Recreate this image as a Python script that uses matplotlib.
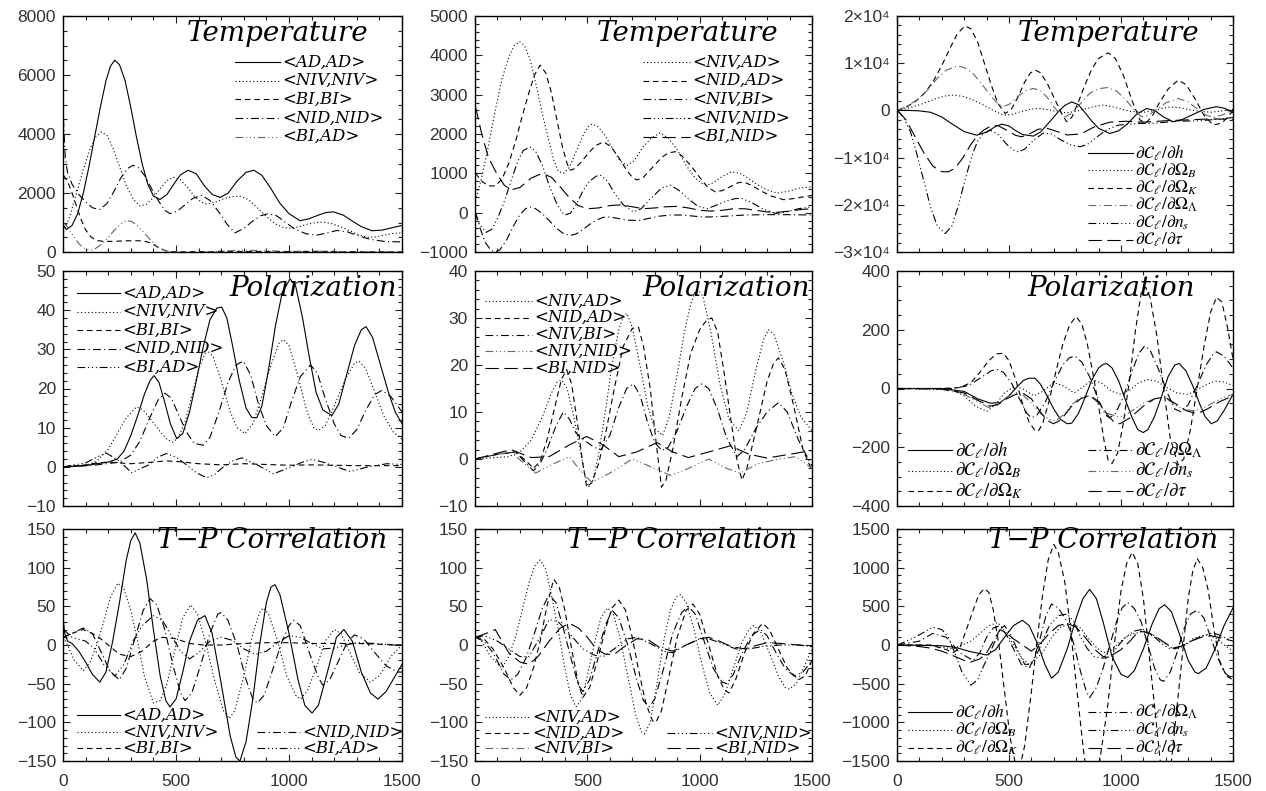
import matplotlib
matplotlib.use('Agg')
import matplotlib.pyplot as plt
from matplotlib.lines import Line2D
from matplotlib.ticker import MultipleLocator, FixedLocator, FixedFormatter

# ---------------- DATA ----------------
# Panel 1: Temperature, auto spectra
t_adad_l = [2, 15, 40, 65, 90, 115, 140, 165, 190, 210, 229, 250, 275, 300, 325, 350, 375, 400, 429, 460, 490, 520, 554, 590, 625, 660, 695, 730, 770, 810, 845, 880, 920, 960, 1000, 1049, 1090, 1130, 1165, 1197, 1240, 1280, 1320, 1367, 1410, 1455, 1500]
t_adad_v = [900, 760, 900, 1300, 2000, 2900, 3900, 4900, 5800, 6300, 6500, 6350, 5800, 4900, 3900, 3000, 2300, 1900, 1780, 1950, 2300, 2620, 2770, 2650, 2250, 1950, 1850, 1990, 2400, 2700, 2770, 2600, 2150, 1650, 1300, 1060, 1130, 1250, 1340, 1360, 1250, 1050, 860, 720, 740, 820, 900]
t_nivniv_l = [2, 30, 60, 90, 120, 145, 170, 195, 220, 250, 280, 310, 340, 370, 400, 430, 460, 488, 520, 550, 580, 610, 636, 670, 710, 750, 783, 820, 860, 900, 940, 975, 1005, 1040, 1080, 1120, 1153, 1190, 1230, 1270, 1310, 1345, 1380, 1420, 1460, 1500]
t_nivniv_v = [700, 1200, 2000, 2800, 3500, 3900, 4070, 3950, 3550, 2900, 2250, 1800, 1560, 1620, 1850, 2150, 2420, 2540, 2450, 2200, 1900, 1700, 1620, 1680, 1800, 1880, 1890, 1780, 1500, 1200, 950, 830, 800, 850, 940, 1000, 1010, 960, 850, 720, 580, 500, 510, 570, 630, 650]
t_bibi_l = [2, 20, 40, 60, 80, 100, 125, 150, 180, 220, 280, 340, 370, 395, 420, 445, 470, 500, 700, 900, 1100, 1300, 1500]
t_bibi_v = [2600, 2400, 2000, 1550, 1100, 750, 500, 390, 360, 360, 380, 380, 350, 280, 160, 70, 15, 0, 20, 10, 20, 10, 0]
t_nidnid_l = [2, 10, 20, 40, 70, 100, 130, 163, 195, 225, 255, 285, 310, 335, 365, 395, 425, 450, 473, 505, 540, 575, 614, 650, 690, 725, 761, 800, 840, 875, 909, 945, 985, 1025, 1075, 1123, 1170, 1212, 1260, 1310, 1360, 1420, 1500]
t_nidnid_v = [4500, 3200, 2700, 2300, 1950, 1700, 1500, 1440, 1650, 2050, 2500, 2830, 2940, 2850, 2550, 2100, 1700, 1420, 1300, 1380, 1600, 1820, 1920, 1750, 1350, 950, 650, 800, 1050, 1230, 1300, 1230, 1000, 780, 620, 570, 650, 730, 680, 540, 430, 360, 340]
t_biad_l = [2, 20, 45, 70, 95, 118, 140, 165, 195, 225, 255, 280, 305, 330, 360, 390, 420, 450, 480, 540, 600, 700, 800, 900, 1000, 1100, 1200, 1300, 1400, 1500]
t_biad_v = [1000, 850, 550, 280, 120, 60, 100, 230, 450, 720, 950, 1070, 1030, 880, 640, 380, 170, 50, 0, -20, -20, 30, 60, 40, 20, 30, 20, 10, 5, 0]

# Panel 2: Temperature, cross spectra
t_nivad_l = [2, 30, 60, 90, 120, 150, 175, 198, 220, 245, 270, 300, 330, 350, 371, 395, 420, 450, 480, 505, 520, 545, 575, 610, 645, 676, 710, 745, 785, 824, 860, 900, 940, 980, 1010, 1032, 1060, 1100, 1143, 1180, 1220, 1260, 1300, 1344, 1390, 1440, 1500]
t_nivad_v = [300, 900, 1700, 2600, 3400, 3950, 4250, 4350, 4250, 3900, 3300, 2500, 1800, 1350, 1050, 1000, 1150, 1550, 1950, 2200, 2250, 2200, 2000, 1650, 1320, 1200, 1330, 1650, 1900, 2030, 1900, 1600, 1200, 880, 740, 700, 760, 920, 1040, 1000, 860, 700, 580, 500, 540, 620, 660]
t_nidad_l = [2, 30, 60, 90, 120, 150, 180, 210, 240, 265, 290, 315, 340, 365, 390, 410, 423, 445, 470, 500, 535, 572, 605, 640, 675, 700, 720, 750, 790, 830, 860, 891, 920, 960, 1000, 1035, 1069, 1100, 1140, 1170, 1195, 1230, 1270, 1320, 1374, 1420, 1460, 1500]
t_nidad_v = [1000, 800, 680, 680, 850, 1250, 1800, 2450, 3050, 3500, 3750, 3550, 3050, 2350, 1650, 1250, 1080, 1120, 1270, 1480, 1700, 1800, 1680, 1400, 1080, 900, 830, 900, 1150, 1400, 1520, 1550, 1450, 1200, 900, 650, 530, 560, 670, 760, 780, 700, 560, 420, 330, 360, 400, 440]
t_nivbi_l = [2, 20, 45, 70, 89, 110, 140, 170, 200, 225, 245, 270, 300, 330, 360, 390, 423, 450, 480, 510, 540, 570, 601, 640, 680, 728, 770, 820, 870, 920, 960, 1000, 1040, 1100, 1200, 1300, 1400, 1500]
t_nivbi_v = [0, -350, -750, -950, -1000, -950, -700, -350, -50, 100, 150, 100, -30, -200, -380, -520, -580, -540, -430, -300, -190, -120, -110, -150, -190, -200, -150, -90, -60, -60, -80, -105, -110, -95, -60, -50, -50, -60]
t_nivnid_l = [2, 20, 50, 75, 100, 130, 160, 190, 215, 245, 270, 300, 330, 360, 385, 401, 425, 450, 480, 510, 540, 560, 590, 620, 660, 705, 740, 780, 830, 869, 910, 950, 990, 1032, 1070, 1120, 1160, 1188, 1230, 1280, 1337, 1380, 1440, 1500]
t_nivnid_v = [0, -300, -500, -420, -150, 280, 800, 1300, 1580, 1670, 1560, 1200, 700, 280, 20, -60, -10, 200, 550, 800, 930, 950, 800, 500, 200, 20, 100, 350, 620, 700, 560, 350, 170, 100, 180, 300, 360, 360, 260, 100, -20, 10, 100, 150]
t_binid_l = [2, 30, 60, 96, 130, 160, 200, 250, 300, 340, 380, 420, 460, 500, 550, 600, 650, 700, 750, 800, 850, 900, 950, 1000, 1050, 1100, 1150, 1200, 1250, 1300, 1350, 1400, 1450, 1500]
t_binid_v = [2700, 2000, 1400, 1000, 700, 580, 640, 880, 1000, 900, 650, 380, 180, 100, 120, 180, 200, 150, 100, 120, 150, 160, 120, 60, 40, 60, 100, 100, 60, 20, 10, 40, 80, 100]

# Panel 3: Temperature, derivatives
t_dh_l = [2, 50, 100, 150, 200, 250, 300, 356, 400, 440, 468, 500, 530, 560, 609, 640, 680, 720, 750, 780, 810, 840, 870, 900, 950, 990, 1030, 1070, 1114, 1150, 1190, 1233, 1270, 1320, 1370, 1426, 1465, 1500]
t_dh_v = [0, 0, -100, -400, -1400, -3000, -4500, -5250, -4600, -3400, -2900, -3300, -4300, -5100, -5450, -4600, -2500, -300, 1100, 1800, 1200, -500, -2300, -3800, -4900, -4300, -2800, -800, 400, 0, -1400, -2400, -2000, -900, 200, 800, 400, -500]
t_dob_l = [2, 60, 120, 180, 220, 252, 290, 330, 380, 430, 475, 510, 550, 600, 640, 680, 720, 760, 800, 840, 880, 921, 960, 1000, 1040, 1100, 1140, 1180, 1220, 1260, 1300, 1340, 1400, 1450, 1500]
t_dob_v = [0, 600, 1500, 2600, 3100, 3240, 3000, 2400, 1300, 0, -1000, -900, -300, 300, 400, 100, -350, -500, -200, 300, 800, 1130, 800, 300, -200, -400, -100, 400, 700, 600, 200, -100, -400, -100, 200]
t_dok_l = [2, 40, 80, 120, 160, 200, 240, 270, 304, 330, 360, 390, 420, 450, 483, 510, 540, 570, 595, 616, 640, 670, 700, 730, 757, 780, 810, 840, 870, 900, 943, 975, 1010, 1050, 1084, 1110, 1140, 1170, 1210, 1255, 1290, 1330, 1370, 1411, 1450, 1480, 1500]
t_dok_v = [0, 700, 1800, 3500, 6000, 9500, 13500, 16300, 17900, 17300, 14500, 10000, 5500, 1500, -650, 200, 2800, 6000, 7900, 8550, 8000, 5800, 2800, -200, -2400, -1500, 1800, 5500, 8800, 11000, 12200, 11000, 7500, 2000, -2000, -2700, -1200, 1500, 4500, 6400, 5500, 2500, -1000, -3100, -2700, -1200, 0]
t_dol_l = [2, 50, 100, 140, 180, 220, 267, 300, 340, 380, 420, 450, 475, 505, 540, 575, 609, 640, 670, 700, 725, 750, 780, 820, 860, 900, 943, 980, 1020, 1060, 1090, 1120, 1160, 1200, 1255, 1300, 1340, 1380, 1411, 1450, 1500]
t_dol_v = [0, 1000, 2600, 4500, 6800, 8500, 9400, 9100, 7800, 5500, 3000, 1400, 800, 1400, 3000, 4200, 4650, 4200, 2800, 800, -600, -1360, -600, 1500, 3600, 4600, 4860, 4100, 2300, 100, -1300, -1100, 200, 1600, 2530, 1800, 300, -1000, -1500, -1000, 0]
t_dns_l = [2, 30, 60, 90, 120, 150, 180, 215, 245, 275, 305, 335, 360, 386, 416, 450, 490, 520, 542, 570, 610, 653, 690, 730, 775, 817, 850, 890, 940, 990, 1069, 1150, 1250, 1350, 1450, 1500]
t_dns_v = [0, -1500, -4500, -9500, -15000, -20500, -24500, -26100, -24500, -20000, -14500, -9500, -6500, -4900, -4200, -5000, -7200, -8400, -8800, -8200, -6300, -4800, -5000, -6200, -7300, -7700, -7200, -5700, -4000, -3100, -2800, -2700, -2300, -2200, -1800, -1500]
t_dtau_l = [2, 40, 80, 120, 160, 200, 230, 260, 295, 330, 360, 386, 420, 450, 490, 530, 557, 590, 630, 670, 710, 760, 820, 880, 950, 1020, 1100, 1200, 1300, 1400, 1500]
t_dtau_v = [0, -2000, -5500, -9000, -11800, -13000, -13000, -12200, -10000, -7200, -5300, -4200, -3300, -3200, -4200, -5300, -5600, -5000, -4000, -3800, -4400, -5200, -5000, -3500, -2500, -2300, -2500, -2200, -2000, -1800, -1900]

# Panel 4: Polarization, auto spectra
p_adad_l = [2, 100, 150, 200, 240, 270, 300, 330, 360, 385, 403, 425, 450, 475, 503, 530, 560, 590, 620, 650, 680, 702, 725, 750, 780, 810, 835, 857, 880, 910, 940, 970, 1005, 1030, 1060, 1090, 1120, 1150, 1190, 1220, 1255, 1290, 1320, 1341, 1370, 1400, 1440, 1470, 1500]
p_adad_v = [0, 0.3, 0.8, 1.2, 2, 4, 8, 13, 18.5, 22, 23.3, 21.5, 16.5, 11, 7.2, 8.5, 14, 22, 30.5, 37.5, 40.5, 40.8, 38, 31, 22, 15, 12.6, 12.5, 15.5, 25, 36, 44.5, 48, 46, 38, 28, 19, 14.5, 13.1, 16, 23.5, 31, 35, 35.8, 33, 27, 19, 14, 11]
p_nivniv_l = [2, 100, 150, 200, 240, 280, 325, 355, 390, 430, 460, 488, 510, 540, 570, 600, 636, 665, 700, 740, 770, 805, 840, 880, 920, 955, 975, 1000, 1040, 1080, 1110, 1131, 1160, 1200, 1250, 1290, 1310, 1340, 1380, 1420, 1460, 1500]
p_nivniv_v = [0, 0.3, 1.5, 4.5, 8.5, 12.5, 15.3, 14.5, 12, 9, 7, 6.3, 7.5, 11.5, 18, 25, 29.9, 28, 22, 14, 10, 8.5, 11, 18, 26, 31.5, 32.5, 31, 23, 14, 10, 9.3, 10.5, 15.5, 22.5, 26.5, 27, 25, 19, 13, 9, 7]
p_bibi_l = [2, 100, 150, 200, 300, 400, 450, 500, 600, 700, 800, 900, 1000, 1100, 1200, 1300, 1400, 1500]
p_bibi_v = [0, 0.5, 1, 1.2, 0.8, 1.2, 1.5, 1.4, 0.8, 0.5, 0.8, 0.6, 0.4, 0.5, 0.4, 0.3, 0.3, 0.3]
p_nidnid_l = [2, 150, 250, 300, 340, 380, 420, 451, 480, 510, 545, 580, 621, 650, 690, 730, 765, 798, 830, 865, 900, 939, 975, 1010, 1050, 1095, 1125, 1160, 1200, 1230, 1264, 1300, 1340, 1380, 1411, 1450, 1500]
p_nidnid_v = [0, 0.5, 1.2, 3, 6.5, 12, 17, 18.8, 17.5, 13.5, 9, 6, 5.5, 7.5, 14, 21.5, 26, 27, 23.5, 16, 10.5, 7.7, 10, 16.5, 23, 26, 24, 17.5, 11, 8, 7.3, 9.5, 14.5, 18.5, 19.5, 18, 14]
p_biad_l = [2, 100, 150, 192, 250, 303, 380, 420, 458, 500, 540, 590, 636, 670, 710, 750, 791, 860, 931, 1010, 1060, 1101, 1150, 1190, 1271, 1350, 1434, 1500]
p_biad_v = [0, 1, 2.5, 3.5, 1.5, -1.5, 0.5, 2.5, 3.4, 2.5, 0.8, -1.5, -2.8, -2, 0, 1.5, 2.3, 0.5, -1.8, 0, 1.2, 1.9, 1.2, 0.4, -1.2, 0, 0.8, 0.6]

# Panel 5: Polarization, cross spectra
p_nivad_l = [2, 150, 200, 250, 300, 340, 365, 386, 410, 440, 470, 490, 505, 525, 550, 580, 610, 640, 660, 676, 700, 730, 770, 800, 835, 865, 900, 930, 960, 980, 995, 1015, 1050, 1090, 1130, 1175, 1210, 1250, 1285, 1307, 1330, 1370, 1410, 1450, 1500]
p_nivad_v = [0, 0.5, 1.5, 4, 9, 14, 16.3, 16.8, 15, 9, 1.5, -3.5, -6, -4.5, 1, 10, 20, 27.5, 30.3, 31, 28, 21, 11, 6.5, 5, 9, 18, 26.5, 33, 35.5, 36, 34.5, 27, 16, 8.5, 6, 10, 19, 25.5, 27.5, 26.5, 21, 14, 9, 6]
p_nidad_l = [2, 100, 180, 230, 260, 290, 320, 360, 385, 408, 430, 455, 480, 497, 520, 550, 580, 620, 660, 700, 728, 750, 780, 805, 830, 850, 880, 920, 960, 1000, 1030, 1054, 1080, 1110, 1140, 1165, 1188, 1210, 1250, 1300, 1330, 1351, 1380, 1420, 1460, 1500]
p_nidad_v = [0, 1, 1.5, -0.5, -2, -0.5, 4, 12, 17, 19, 16, 8, -1, -6, -5, -1, 5, 15, 24, 27.8, 28, 24, 15, 4, -6, -4.5, 2, 13, 22.5, 27.5, 29.5, 30, 27, 18, 8, 0, -4.5, -2, 6, 16.5, 20.5, 21.5, 19, 11, 2, -2.5]
p_nivbi_l = [2, 100, 180, 220, 260, 290, 320, 360, 393, 420, 450, 497, 530, 560, 600, 640, 675, 705, 735, 770, 800, 832, 860, 900, 940, 980, 1010, 1040, 1080, 1120, 1166, 1200, 1250, 1300, 1351, 1390, 1440, 1500]
p_nivbi_v = [0, 1, 1.5, -0.5, -2.5, -1, 2, 7, 10, 8.5, 5.5, 3.6, 2.5, 2, 5, 11, 15, 16, 13.5, 7.5, 3.5, 1.8, 2.5, 6, 11, 15, 16, 15, 10.5, 4.5, 0.5, 2, 6.5, 10, 12, 10, 4, -1.5]
p_nivnid_l = [2, 100, 160, 220, 270, 350, 420, 470, 520, 600, 700, 800, 870, 950, 1040, 1120, 1180, 1260, 1350, 1430, 1500]
p_nivnid_v = [0, 1, 1.5, -1, -3, -1, 0.5, -2.5, -5, -3, 0, -2, -3.5, -2, 0, -2, -3, -1, 0, 0.5, -2]
p_binid_l = [2, 80, 160, 250, 330, 420, 497, 570, 640, 720, 810, 880, 950, 1040, 1136, 1220, 1300, 1400, 1500]
p_binid_v = [0, 1, 2, 0.3, 0.5, 3, 4.8, 3, 0.5, 1.5, 3.5, 1.5, 0.3, 1.5, 2.8, 1, 0.2, 1, 1.8]

# Panel 6: Polarization, derivatives
p_dh_l = [2, 200, 300, 360, 416, 460, 500, 535, 565, 590, 616, 640, 670, 700, 730, 760, 780, 810, 840, 870, 900, 920, 936, 960, 990, 1020, 1050, 1075, 1099, 1120, 1150, 1180, 1210, 1240, 1260, 1290, 1320, 1350, 1375, 1403, 1430, 1460, 1500]
p_dh_v = [0, 0, -10, -35, -50, -48, -25, 5, 28, 35, 35, 15, -25, -70, -105, -120, -118, -85, -30, 30, 70, 82, 85, 70, 25, -40, -100, -140, -150, -140, -95, -30, 40, 80, 85, 60, 10, -50, -95, -120, -110, -75, -20]
p_dob_l = [2, 250, 300, 350, 401, 440, 480, 520, 560, 610, 650, 700, 740, 790, 830, 870, 910, 960, 1000, 1040, 1080, 1120, 1160, 1200, 1250, 1300, 1350, 1400, 1426, 1460, 1500]
p_dob_v = [0, -5, -25, -60, -78, -55, -15, 5, 0, -25, -10, 20, 10, -15, 5, 30, 20, -10, -20, -5, 20, 30, 25, 5, -15, -20, 0, 20, 25, 22, 10]
p_dok_l = [2, 200, 280, 330, 370, 410, 445, 475, 500, 530, 560, 590, 615, 631, 650, 680, 710, 740, 770, 799, 825, 850, 875, 900, 925, 943, 960, 985, 1010, 1040, 1065, 1091, 1110, 1130, 1160, 1190, 1220, 1255, 1280, 1310, 1340, 1370, 1400, 1426, 1450, 1475, 1500]
p_dok_v = [0, 0, 3, 20, 55, 95, 118, 120, 95, 30, -50, -115, -142, -145, -120, -40, 60, 150, 215, 245, 220, 150, 50, -60, -180, -245, -255, -220, -120, 40, 200, 330, 345, 310, 180, 0, -170, -260, -240, -140, 0, 140, 260, 310, 295, 210, 100]
p_dol_l = [2, 250, 320, 380, 420, 446, 475, 510, 550, 580, 601, 625, 660, 700, 740, 770, 794, 825, 860, 900, 930, 950, 975, 1010, 1050, 1080, 1106, 1130, 1165, 1210, 1240, 1270, 1300, 1340, 1380, 1410, 1426, 1460, 1500]
p_dol_v = [0, 0, 10, 40, 60, 65, 55, 20, -40, -85, -100, -90, -50, 20, 80, 105, 110, 90, 40, -40, -90, -100, -85, -30, 60, 120, 145, 130, 70, -20, -70, -80, -55, 10, 80, 115, 125, 110, 70]
p_dns_l = [2, 200, 300, 360, 410, 450, 490, 520, 560, 600, 640, 680, 710, 750, 780, 820, 861, 900, 940, 980, 1010, 1060, 1100, 1150, 1195, 1240, 1280, 1330, 1370, 1420, 1460, 1500]
p_dns_v = [0, -2, -20, -45, -65, -55, -30, -20, -20, -50, -85, -105, -110, -85, -55, -30, -25, -50, -85, -95, -95, -70, -50, -35, -30, -55, -72, -76, -65, -45, -30, -20]
p_dtau_l = [2, 200, 300, 360, 416, 450, 490, 530, 564, 600, 640, 670, 698, 730, 780, 820, 861, 900, 940, 970, 995, 1040, 1100, 1150, 1195, 1240, 1290, 1337, 1380, 1440, 1500]
p_dtau_v = [0, -2, -15, -40, -60, -55, -35, -20, -17, -35, -80, -108, -120, -108, -60, -35, -23, -45, -90, -115, -120, -100, -60, -35, -29, -50, -75, -86, -72, -45, -25]

# Panel 7: T-P correlation, auto spectra
c_adad_l = [2, 8, 20, 40, 70, 100, 130, 163, 190, 220, 250, 280, 300, 319, 340, 370, 400, 430, 455, 473, 500, 530, 560, 595, 628, 660, 700, 740, 765, 783, 810, 840, 870, 900, 920, 938, 960, 1000, 1040, 1070, 1102, 1130, 1170, 1210, 1243, 1280, 1320, 1360, 1394, 1430, 1470, 1500]
c_adad_v = [30, 15, 5, 2, -8, -22, -38, -48, -35, 5, 55, 110, 135, 145, 132, 85, 20, -40, -72, -80, -70, -35, 5, 32, 38, 15, -50, -118, -145, -150, -125, -70, 0, 55, 75, 78, 65, 15, -45, -78, -88, -78, -35, 10, 20, 5, -35, -62, -70, -60, -40, -25]
c_nivniv_l = [2, 20, 50, 90, 120, 150, 180, 210, 243, 270, 300, 330, 360, 400, 430, 460, 500, 530, 565, 595, 630, 670, 710, 735, 760, 800, 840, 870, 885, 910, 950, 990, 1030, 1050, 1080, 1120, 1160, 1200, 1230, 1270, 1310, 1360, 1400, 1450, 1500]
c_nivniv_v = [10, 0, -20, -33, -22, 0, 30, 62, 80, 72, 45, 5, -40, -75, -72, -50, 0, 35, 52, 40, 5, -45, -85, -95, -85, -40, 15, 42, 48, 40, 5, -40, -65, -70, -60, -30, 5, 20, 15, -10, -35, -48, -40, -15, 0]
c_bibi_l = [2, 40, 90, 150, 200, 250, 300, 350, 400, 440, 500, 560, 620, 700, 800, 900, 1000, 1100, 1200, 1300, 1400, 1500]
c_bibi_v = [10, 15, 20, 12, 0, -12, -15, -8, 5, 10, 8, 2, 0, 0, 2, 3, 3, 2, 2, 2, 1, 0]
c_nidnid_l = [2, 40, 90, 130, 170, 210, 250, 280, 320, 355, 385, 415, 450, 490, 520, 540, 570, 610, 650, 685, 700, 730, 770, 810, 840, 860, 890, 930, 970, 1000, 1020, 1050, 1090, 1130, 1150, 1180, 1220, 1260, 1290, 1330, 1380, 1430, 1480, 1500]
c_nidnid_v = [10, 15, 22, 15, -10, -35, -45, -30, 10, 45, 60, 52, 20, -30, -62, -72, -62, -25, 15, 40, 42, 32, 0, -45, -70, -75, -65, -30, 5, 25, 32, 25, -10, -42, -52, -45, -20, 5, 13, 8, -10, -27, -35, -35]
c_biad_l = [2, 40, 100, 140, 180, 230, 270, 310, 350, 400, 440, 480, 520, 560, 600, 650, 700, 750, 800, 850, 900, 950, 1000, 1050, 1100, 1150, 1200, 1250, 1300, 1380, 1450, 1500]
c_biad_v = [20, 10, 5, -5, -25, -40, -25, 5, 25, 38, 32, 12, -8, -18, -10, 5, 10, 6, -5, -12, -8, 3, 12, 10, 2, -5, -4, 0, 3, 2, 0, 0]

# Panel 8: T-P correlation, cross spectra
c_nivad_l = [2, 30, 70, 120, 150, 180, 210, 240, 265, 290, 315, 340, 370, 400, 425, 450, 475, 500, 530, 560, 590, 615, 645, 680, 715, 740, 755, 780, 810, 840, 870, 895, 915, 940, 975, 1010, 1045, 1080, 1110, 1150, 1190, 1220, 1240, 1270, 1310, 1350, 1380, 1400, 1430, 1470, 1500]
c_nivad_v = [10, 5, -15, -30, -15, 10, 45, 80, 102, 110, 98, 65, 20, -30, -65, -80, -70, -40, 0, 35, 48, 40, 10, -40, -90, -112, -115, -100, -50, 5, 45, 62, 65, 55, 20, -25, -62, -78, -65, -30, 5, 20, 25, 18, -10, -40, -55, -57, -50, -25, -5]
c_nidad_l = [2, 40, 80, 130, 170, 200, 230, 260, 290, 320, 350, 375, 400, 430, 460, 480, 510, 545, 580, 610, 640, 670, 700, 730, 760, 790, 805, 830, 860, 900, 940, 970, 1000, 1040, 1080, 1110, 1130, 1160, 1200, 1240, 1280, 1310, 1350, 1390, 1440, 1470, 1500]
c_nidad_v = [10, 8, -5, -30, -55, -65, -55, -30, 5, 50, 85, 75, 45, -5, -50, -68, -55, -20, 20, 48, 58, 45, 10, -35, -75, -98, -100, -85, -45, 10, 45, 53, 40, 0, -40, -58, -62, -45, -10, 15, 28, 20, -5, -30, -45, -40, -20]
c_nivbi_l = [2, 40, 80, 130, 160, 190, 230, 270, 300, 330, 360, 390, 430, 460, 480, 510, 550, 580, 610, 640, 680, 720, 750, 775, 800, 840, 880, 920, 950, 980, 1020, 1060, 1100, 1120, 1150, 1190, 1230, 1270, 1300, 1340, 1380, 1420, 1460, 1500]
c_nivbi_v = [10, 5, -10, -38, -45, -38, -15, 20, 48, 65, 55, 25, -20, -52, -60, -45, -5, 25, 45, 35, 0, -45, -72, -80, -70, -30, 15, 42, 50, 40, 5, -30, -48, -50, -38, -10, 12, 20, 12, -10, -30, -40, -35, -20]
c_nivnid_l = [2, 40, 100, 150, 200, 240, 290, 330, 370, 420, 480, 530, 570, 620, 680, 720, 780, 840, 880, 940, 1000, 1040, 1100, 1160, 1220, 1280, 1360, 1440, 1500]
c_nivnid_v = [10, 12, 5, -5, -15, -15, 10, 33, 30, 15, -5, -13, -15, -5, 8, 10, 2, -8, -10, 0, 8, 8, 2, -5, -5, -2, 0, 0, -2]
c_binid_l = [2, 50, 90, 120, 150, 200, 240, 280, 330, 380, 420, 460, 500, 540, 580, 620, 660, 720, 770, 820, 880, 940, 1000, 1040, 1080, 1140, 1200, 1260, 1300, 1360, 1440, 1500]
c_binid_v = [10, 15, 20, 5, -10, -22, -25, -15, 5, 22, 28, 22, 10, -5, -12, -12, -3, 8, 7, -3, -8, 0, 8, 10, 6, -2, -5, 0, 3, 2, 0, -2]

# Panel 9: T-P correlation, derivatives
c_dh_l = [2, 200, 260, 320, 400, 440, 480, 520, 560, 590, 630, 660, 690, 720, 760, 800, 830, 860, 890, 920, 960, 1000, 1030, 1060, 1100, 1140, 1170, 1195, 1225, 1260, 1300, 1330, 1345, 1380, 1420, 1460, 1500]
c_dh_v = [0, -10, -30, -80, -130, -60, 100, 250, 320, 250, 0, -250, -430, -350, -50, 350, 600, 720, 600, 300, -150, -380, -420, -330, -50, 280, 470, 520, 430, 150, -200, -350, -370, -300, -50, 250, 480]
c_dob_l = [2, 150, 200, 250, 290, 330, 370, 410, 450, 490, 520, 560, 590, 620, 650, 690, 730, 780, 820, 850, 890, 920, 950, 980, 1020, 1060, 1110, 1150, 1180, 1220, 1250, 1290, 1320, 1360, 1390, 1430, 1460, 1500]
c_dob_v = [0, 0, -30, -50, 0, 50, 150, 250, 290, 150, 0, -180, -250, -180, -100, 100, 230, 280, 220, 100, -30, -100, -80, 0, 100, 150, 180, 120, 50, -30, -50, 0, 80, 120, 130, 80, 0, -80]
c_dok_l = [2, 150, 220, 250, 280, 310, 340, 365, 390, 410, 430, 455, 480, 505, 540, 570, 600, 625, 650, 675, 700, 720, 750, 775, 800, 830, 870, 905, 940, 970, 1000, 1025, 1050, 1075, 1100, 1125, 1150, 1175, 1195, 1225, 1250, 1275, 1300, 1320, 1340, 1365, 1390, 1415, 1440, 1470, 1500]
c_dok_v = [0, 0, -60, -100, -40, 200, 450, 650, 730, 680, 450, 0, -600, -1200, -1700, -1300, -600, 50, 650, 1100, 1300, 1200, 800, 200, -500, -1300, -2200, -1500, -800, 0, 700, 1050, 1200, 1050, 600, -100, -800, -1500, -2000, -1500, -800, -100, 600, 950, 1120, 1000, 700, 200, -200, -400, -450]
c_dol_l = [2, 100, 160, 220, 280, 340, 370, 400, 430, 460, 490, 520, 555, 590, 615, 640, 665, 690, 720, 760, 790, 820, 845, 860, 890, 920, 950, 980, 1005, 1030, 1060, 1090, 1120, 1150, 1175, 1190, 1220, 1250, 1280, 1310, 1340, 1370, 1400, 1430, 1460, 1500]
c_dol_v = [0, 50, 150, 100, -100, -200, -100, 100, 220, 250, 120, -50, -250, -300, -150, 100, 380, 530, 480, 300, 0, -350, -600, -680, -550, -300, 0, 300, 480, 550, 470, 300, 0, -300, -450, -470, -350, -100, 200, 400, 450, 350, 100, -150, -350, -450]
c_dns_l = [2, 80, 160, 200, 230, 260, 290, 330, 360, 390, 430, 460, 480, 510, 540, 570, 600, 620, 650, 680, 720, 760, 790, 820, 850, 880, 920, 950, 990, 1020, 1060, 1090, 1120, 1150, 1190, 1220, 1260, 1300, 1350, 1400, 1430, 1460, 1500]
c_dns_v = [0, 100, 230, 200, 100, -120, -350, -520, -450, -250, 0, 200, 250, 120, -80, -250, -250, -150, 50, 250, 380, 400, 300, 100, -50, -150, -170, -150, 0, 100, 180, 200, 150, 100, 0, -50, -20, 30, 100, 150, 140, 100, 50]
c_dtau_l = [2, 100, 150, 200, 260, 300, 330, 370, 400, 430, 460, 490, 520, 560, 600, 640, 680, 720, 760, 800, 840, 880, 920, 960, 1000, 1040, 1080, 1120, 1160, 1200, 1240, 1280, 1320, 1360, 1400, 1450, 1500]
c_dtau_v = [0, -20, -40, -80, -150, -200, -220, -180, -100, 50, 200, 150, 80, 0, -80, 20, 150, 250, 280, 230, 100, -50, -150, -130, -60, 50, 180, 160, 100, 20, -50, 0, 60, 100, 120, 90, 50]

# labels
lab_auto = ['<AD,AD>', '<NIV,NIV>', '<BI,BI>', '<NID,NID>', '<BI,AD>']
lab_cross = ['<NIV,AD>', '<NID,AD>', '<NIV,BI>', '<NIV,NID>', '<BI,NID>']
lab_deriv = [r'$\partial\mathcal{C}_\ell/\partial h$', r'$\partial\mathcal{C}_\ell/\partial\Omega_B$',
             r'$\partial\mathcal{C}_\ell/\partial\Omega_K$', r'$\partial\mathcal{C}_\ell/\partial\Omega_\Lambda$',
             r'$\partial\mathcal{C}_\ell/\partial n_s$', r'$\partial\mathcal{C}_\ell/\partial\tau$']
titles = ['Temperature', 'Polarization', 'T\u2212P Correlation']

# ---------------- STYLE ----------------
LS = {
    'solid': '-',
    'dot': (0, (1, 2.2)),
    'dash': (0, (5, 3.5)),
    'dashdot': (0, (7, 3, 1, 3)),
    'dash3': (0, (7, 2.5, 1, 2.5, 1, 2.5, 1, 2.5)),
    'long': (0, (12, 5)),
}
DARK = 'black'
GRAY = '#666666'
LW = 0.8

W, H = 1266, 791
fig = plt.figure(figsize=(W / 100, H / 100), dpi=100)
cols = [(63, 402), (475, 812), (897, 1233)]
rows = [(16, 252), (271, 506), (529, 761)]

TICKFONT = dict(family=['Liberation Sans', 'DejaVu Sans'], size=12.5, color='#333333')


def make_ax(r, c):
    x0, x1 = cols[c]
    y0, y1 = rows[r]
    ax = fig.add_axes([x0 / W, 1 - y1 / H, (x1 - x0) / W, (y1 - y0) / H])
    ax.set_xlim(0, 1500)
    ax.xaxis.set_major_locator(MultipleLocator(500))
    ax.xaxis.set_minor_locator(MultipleLocator(100))
    ax.tick_params(which='both', direction='in', top=True, right=True, width=0.8, color='#222222')
    ax.tick_params(which='major', length=5)
    ax.tick_params(which='minor', length=3)
    ax.tick_params(axis='y', pad=5)
    ax.tick_params(axis='x', pad=9)
    for s in ax.spines.values():
        s.set_linewidth(1.0)
    if r < 2:
        ax.set_xticklabels([])
    return ax


def style_ticks(ax):
    for lab in ax.get_yticklabels() + ax.get_xticklabels():
        lab.set_fontfamily(TICKFONT['family'])
        lab.set_fontsize(TICKFONT['size'])
        lab.set_color(TICKFONT['color'])


def curve(ax, l, v, ls, color=DARK, lw=LW):
    ax.plot(l, v, linestyle=LS[ls], color=color, lw=lw, clip_on=True, solid_joinstyle='round')


def title(ax, text, dx, dy):
    ax.annotate(text, xy=(1, 1), xycoords='axes fraction', xytext=(-dx, -dy),
                textcoords='offset pixels', ha='right', va='center',
                family='DejaVu Serif', style='italic', fontsize=20)


def leg(x1, x2, y, tx, ls, label, color=DARK, math=False, size=12):
    fig.add_artist(Line2D([x1 / W, x2 / W], [1 - y / H, 1 - y / H], transform=fig.transFigure,
                          linestyle=LS[ls], color=color, lw=LW))
    if math:
        fig.text(tx / W, 1 - y / H, label, ha='left', va='center', fontsize=size,
                 math_fontfamily='stix')
    else:
        fig.text(tx / W, 1 - y / H, label, ha='left', va='center', fontsize=size,
                 family='DejaVu Serif', style='italic')


styles5a = ['solid', 'dot', 'dash', 'dashdot', 'dash3']
styles5b = ['dot', 'dash', 'dashdot', 'dash3', 'long']
styles6 = ['solid', 'dot', 'dash', 'dashdot', 'dash3', 'long']

# ---------- Row 1 ----------
ax = make_ax(0, 0)
ax.set_ylim(0, 8000)
ax.yaxis.set_major_locator(MultipleLocator(2000))
ax.yaxis.set_minor_locator(MultipleLocator(500))
curve(ax, t_adad_l, t_adad_v, 'solid')
curve(ax, t_nivniv_l, t_nivniv_v, 'dot')
curve(ax, t_bibi_l, t_bibi_v, 'dash')
curve(ax, t_nidnid_l, t_nidnid_v, 'dashdot')
curve(ax, t_biad_l, t_biad_v, 'dash3', color=GRAY)
title(ax, titles[0], 34, 17)
for i, (lab, ls) in enumerate(zip(lab_auto, styles5a)):
    leg(235, 280, 62 + 18.7 * i, 282, ls, lab, color=GRAY if i == 4 else DARK)
style_ticks(ax)

ax = make_ax(0, 1)
ax.set_ylim(-1000, 5000)
ax.yaxis.set_major_locator(MultipleLocator(1000))
ax.yaxis.set_minor_locator(MultipleLocator(200))
curve(ax, t_nivad_l, t_nivad_v, 'dot')
curve(ax, t_nidad_l, t_nidad_v, 'dash')
curve(ax, t_nivbi_l, t_nivbi_v, 'dashdot')
curve(ax, t_nivnid_l, t_nivnid_v, 'dash3')
curve(ax, t_binid_l, t_binid_v, 'long')
title(ax, titles[0], 34, 17)
for i, (lab, ls) in enumerate(zip(lab_cross, styles5b)):
    leg(643, 690, 62 + 18.7 * i, 692, ls, lab)
style_ticks(ax)

ax = make_ax(0, 2)
ax.set_ylim(-30000, 20000)
yt = [-30000, -20000, -10000, 0, 10000, 20000]
ax.yaxis.set_major_locator(FixedLocator(yt))
ax.yaxis.set_major_formatter(FixedFormatter(['\u22123\u00d710\u2074', '\u22122\u00d710\u2074', '\u22121\u00d710\u2074', '0', '1\u00d710\u2074', '2\u00d710\u2074']))
ax.yaxis.set_minor_locator(MultipleLocator(2000))
curve(ax, t_dh_l, t_dh_v, 'solid')
curve(ax, t_dob_l, t_dob_v, 'dot')
curve(ax, t_dok_l, t_dok_v, 'dash')
curve(ax, t_dol_l, t_dol_v, 'dashdot', color=GRAY)
curve(ax, t_dns_l, t_dns_v, 'dash3')
curve(ax, t_dtau_l, t_dtau_v, 'long')
title(ax, titles[0], 34, 17)
for i, (lab, ls) in enumerate(zip(lab_deriv, styles6)):
    leg(1088, 1133, 153 + 17.4 * i, 1135, ls, lab, color=GRAY if i == 3 else DARK, math=True, size=12.5)
style_ticks(ax)

# ---------- Row 2 ----------
ax = make_ax(1, 0)
ax.set_ylim(-10, 50)
ax.yaxis.set_major_locator(MultipleLocator(10))
ax.yaxis.set_minor_locator(MultipleLocator(2))
curve(ax, p_adad_l, p_adad_v, 'solid')
curve(ax, p_nivniv_l, p_nivniv_v, 'dot')
curve(ax, p_bibi_l, p_bibi_v, 'dash')
curve(ax, p_nidnid_l, p_nidnid_v, 'dashdot')
curve(ax, p_biad_l, p_biad_v, 'dash3')
title(ax, titles[1], 5, 18)
for i, (lab, ls) in enumerate(zip(lab_auto, styles5a)):
    leg(77, 120, 293 + 18.5 * i, 122, ls, lab)
style_ticks(ax)

ax = make_ax(1, 1)
ax.set_ylim(-10, 40)
ax.yaxis.set_major_locator(MultipleLocator(10))
ax.yaxis.set_minor_locator(MultipleLocator(2))
curve(ax, p_nivad_l, p_nivad_v, 'dot')
curve(ax, p_nidad_l, p_nidad_v, 'dash')
curve(ax, p_nivbi_l, p_nivbi_v, 'dashdot')
curve(ax, p_nivnid_l, p_nivnid_v, 'dash3', color=GRAY)
curve(ax, p_binid_l, p_binid_v, 'long')
title(ax, titles[1], 2, 18)
for i, (lab, ls) in enumerate(zip(lab_cross, styles5b)):
    leg(485, 532, 301 + 16.8 * i, 534, ls, lab, color=GRAY if i == 3 else DARK)
style_ticks(ax)

ax = make_ax(1, 2)
ax.set_ylim(-400, 400)
ax.yaxis.set_major_locator(MultipleLocator(200))
ax.yaxis.set_minor_locator(MultipleLocator(50))
curve(ax, p_dh_l, p_dh_v, 'solid')
curve(ax, p_dob_l, p_dob_v, 'dot')
curve(ax, p_dok_l, p_dok_v, 'dash')
curve(ax, p_dol_l, p_dol_v, 'dashdot')
curve(ax, p_dns_l, p_dns_v, 'dash3', color=GRAY)
curve(ax, p_dtau_l, p_dtau_v, 'long')
title(ax, titles[1], 38, 18)
for i in range(3):
    leg(908, 952, 450 + 20.5 * i, 955, styles6[i], lab_deriv[i], math=True, size=13.5)
    leg(1088, 1133, 450 + 20.5 * i, 1135, styles6[i + 3], lab_deriv[i + 3],
        color=GRAY if i == 1 else DARK, math=True, size=13.5)
style_ticks(ax)

# ---------- Row 3 ----------
ax = make_ax(2, 0)
ax.set_ylim(-150, 150)
ax.yaxis.set_major_locator(MultipleLocator(50))
ax.yaxis.set_minor_locator(MultipleLocator(10))
curve(ax, c_adad_l, c_adad_v, 'solid')
curve(ax, c_nivniv_l, c_nivniv_v, 'dot')
curve(ax, c_bibi_l, c_bibi_v, 'dash')
curve(ax, c_nidnid_l, c_nidnid_v, 'dashdot')
curve(ax, c_biad_l, c_biad_v, 'dash3')
title(ax, titles[2], 15, 12)
leg(77, 120, 715, 122, 'solid', lab_auto[0])
leg(77, 120, 732, 122, 'dot', lab_auto[1])
leg(77, 120, 748, 122, 'dash', lab_auto[2])
leg(257, 300, 732, 302, 'dashdot', lab_auto[3])
leg(257, 300, 748, 302, 'dash3', lab_auto[4])
style_ticks(ax)

ax = make_ax(2, 1)
ax.set_ylim(-150, 150)
ax.yaxis.set_major_locator(MultipleLocator(50))
ax.yaxis.set_minor_locator(MultipleLocator(10))
curve(ax, c_nivad_l, c_nivad_v, 'dot')
curve(ax, c_nidad_l, c_nidad_v, 'dash')
curve(ax, c_nivbi_l, c_nivbi_v, 'dashdot')
curve(ax, c_nivnid_l, c_nivnid_v, 'dash3')
curve(ax, c_binid_l, c_binid_v, 'long')
title(ax, titles[2], 15, 12)
leg(485, 530, 717, 532, 'dot', lab_cross[0])
leg(485, 530, 733, 532, 'dash', lab_cross[1])
leg(485, 530, 748, 532, 'dashdot', lab_cross[2], color=GRAY)
leg(667, 712, 733, 714, 'dash3', lab_cross[3])
leg(667, 712, 748, 714, 'long', lab_cross[4])
style_ticks(ax)

ax = make_ax(2, 2)
ax.set_ylim(-1500, 1500)
ax.yaxis.set_major_locator(MultipleLocator(500))
ax.yaxis.set_minor_locator(MultipleLocator(100))
curve(ax, c_dh_l, c_dh_v, 'solid')
curve(ax, c_dob_l, c_dob_v, 'dot')
curve(ax, c_dok_l, c_dok_v, 'dash')
curve(ax, c_dol_l, c_dol_v, 'dashdot')
curve(ax, c_dns_l, c_dns_v, 'dash3')
curve(ax, c_dtau_l, c_dtau_v, 'long')
title(ax, titles[2], 15, 12)
for i in range(3):
    leg(908, 952, 712 + 18 * i, 955, styles6[i], lab_deriv[i], math=True, size=12.5)
    leg(1088, 1133, 712 + 18 * i, 1135, styles6[i + 3], lab_deriv[i + 3], math=True, size=12.5)
style_ticks(ax)

fig.savefig('out.png', dpi=100)
